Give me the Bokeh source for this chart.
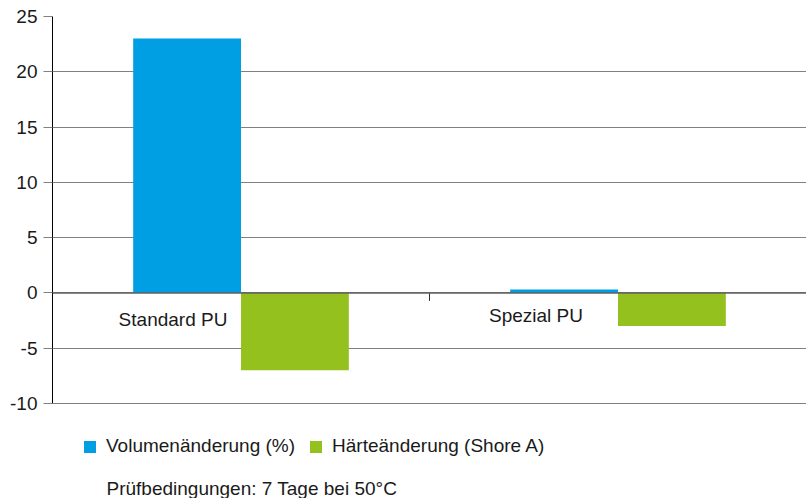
from bokeh.plotting import figure
from bokeh.models import Range1d, Span, Legend, LegendItem, Label, ColumnDataSource, FixedTicker
from bokeh.core.properties import value
from bokeh.embed import file_html
from bokeh.resources import INLINE
import math

# ---- data ----
categories = ["Standard PU", "Spezial PU"]
volumen = [23.0, 0.3]      # Volumenänderung (%)
haerte = [-7.0, -3.0]      # Härteänderung (Shore A)
series_names = ["Volumenänderung (%)", "Härteänderung (Shore A)"]
y_ticks = [-10, -5, 0, 5, 10, 15, 20, 25]
y_min, y_max = -10, 25
footnote = "Prüfbedingungen: 7 Tage bei 50°C"

# ---- style ----
BLUE = "#009FE3"
GREEN = "#95C11F"
FONT = "Liberation Sans"
TXT = "#1a1a1a"
BAR_W = 0.286
label_x_off = [-68, -82]
label_y_off = [27, 23]

W, H = 806, 498
TOP, AXIS_BOTTOM, LEFT = 16, 403, 52
px_per_unit = (AXIS_BOTTOM - TOP) / (y_max - y_min)
# extend frame down to the bottom so legend/footnote sit inside it
y_start = y_max - (H - TOP) / px_per_unit

p = figure(width=W, height=H, output_backend="svg", toolbar_location=None,
           x_range=Range1d(0, len(categories)), y_range=Range1d(y_start, y_max),
           min_border_left=LEFT, min_border_right=0, min_border_top=TOP, min_border_bottom=0)
p.outline_line_color = None
p.background_fill_color = "white"
p.border_fill_color = "white"

centers = [i + 0.5 for i in range(len(categories))]
src = ColumnDataSource(dict(
    xb=[c - BAR_W / 2 for c in centers],
    xg=[c + BAR_W / 2 for c in centers],
    vol=volumen, hae=haerte, cat=categories,
    xc=centers, xo=label_x_off, yo=label_y_off, zero=[0] * len(categories)))

p.xgrid.visible = False
p.ygrid.grid_line_color = "#808080"
p.ygrid.grid_line_width = 1
p.yaxis.ticker = FixedTicker(ticks=y_ticks)
p.ygrid.ticker = FixedTicker(ticks=y_ticks)
p.xaxis.visible = False

r_vol = p.vbar(x="xb", width=BAR_W, top="vol", bottom=0, source=src,
               fill_color=BLUE, line_color=None)
r_hae = p.vbar(x="xg", width=BAR_W, top=0, bottom="hae", source=src,
               fill_color=GREEN, line_color=None)

p.add_layout(Span(location=0, dimension="width", line_color="#606060", line_width=1.5))

# separator tick between categories
p.ray(x=[1.0], y=[0], length=8, length_units="screen", angle=-math.pi / 2,
      line_color="#303030", line_width=1)

# category labels
p.text(x="xc", y="zero", text="cat", source=src, x_offset="xo", y_offset="yo",
       text_align="center", text_baseline="alphabetic",
       text_font=value(FONT), text_font_size="19px", text_color=TXT)

ax = p.yaxis[0]
ax.bounds = (y_min, y_max)
ax.axis_line_color = "black"
ax.axis_line_width = 1
ax.major_tick_out = 9
ax.major_tick_in = 0
ax.major_tick_line_color = "#808080"
ax.minor_tick_line_color = None
ax.major_label_standoff = 6
ax.major_label_text_font = FONT
ax.major_label_text_font_size = "19px"
ax.major_label_text_color = TXT
ax.major_label_overrides = {t: str(t) for t in y_ticks}

legend = Legend(items=[LegendItem(label=series_names[0], renderers=[r_vol]),
                       LegendItem(label=series_names[1], renderers=[r_hae])],
                location=(30, 41), orientation="horizontal",
                glyph_width=15, glyph_height=15, label_standoff=9, spacing=13,
                padding=0, margin=0, border_line_color=None,
                background_fill_alpha=0,
                label_text_font=FONT, label_text_font_size="19px",
                label_text_color=TXT)
p.add_layout(legend, "center")

p.add_layout(Label(x=54, y=10, x_units="screen", y_units="screen", text=footnote,
                   text_font=FONT, text_font_size="19px", text_color=TXT,
                   text_baseline="alphabetic"))

open("out.html", "w").write(file_html(p, INLINE))
